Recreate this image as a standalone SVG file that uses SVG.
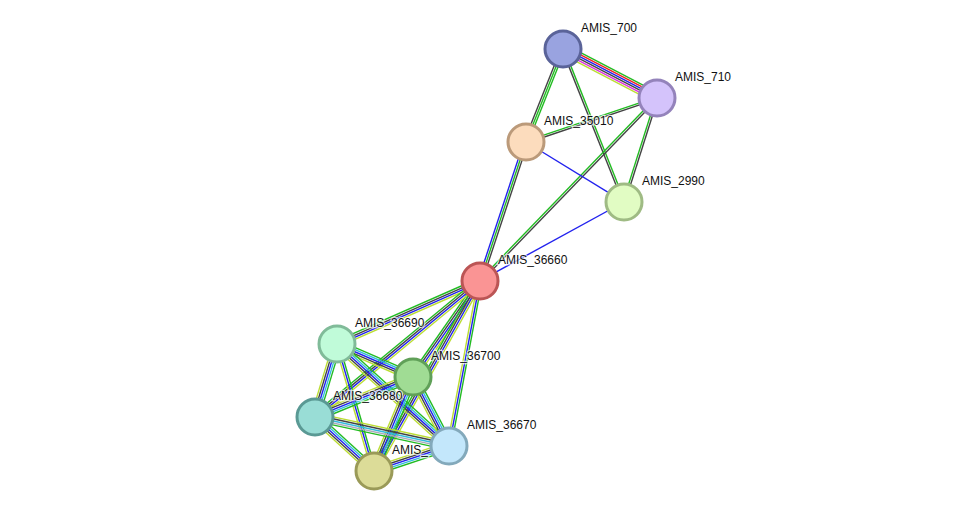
<svg xmlns="http://www.w3.org/2000/svg" width="976" height="517" viewBox="0 0 976 517">
<style>
line{stroke-width:1.4;fill:none}
.g{stroke:#22bb22}.r{stroke:#ee2222}.b{stroke:#2222ee}.k{stroke:#444}.m{stroke:#dd33dd}.y{stroke:#bbdd33}.c{stroke:#33bbdd}
.n circle{stroke-width:3}
text{font-family:"Liberation Sans",Arial,sans-serif;font-size:12px;fill:#111;paint-order:stroke;stroke:#fff;stroke-width:2.5px;stroke-opacity:0.7}
</style>
<rect width="976" height="517" fill="#fff"/>
<g id="edges">
<g transform="translate(563,49) rotate(27.5)"><line class="g" x1="0" y1="-5" x2="106" y2="-5"/><line class="r" x1="0" y1="-3" x2="106" y2="-3"/><line class="b" x1="0" y1="-1" x2="106" y2="-1"/><line class="k" x1="0" y1="1" x2="106" y2="1"/><line class="m" x1="0" y1="3" x2="106" y2="3"/><line class="y" x1="0" y1="5" x2="106" y2="5"/></g>
<g transform="translate(563,49) rotate(111.7)"><line class="g" x1="0" y1="-2" x2="100" y2="-2"/><line class="g" x1="0" y1="0" x2="100" y2="0"/><line class="k" x1="0" y1="2" x2="100" y2="2"/></g>
<g transform="translate(563,49) rotate(68.3)"><line class="g" x1="0" y1="-1" x2="165" y2="-1"/><line class="k" x1="0" y1="1" x2="165" y2="1"/></g>
<g transform="translate(657,98) rotate(161.4)"><line class="k" x1="0" y1="-1" x2="138" y2="-1"/><line class="g" x1="0" y1="1" x2="138" y2="1"/></g>
<g transform="translate(657,98) rotate(107.6)"><line class="k" x1="0" y1="-1" x2="109" y2="-1"/><line class="g" x1="0" y1="1" x2="109" y2="1"/></g>
<g transform="translate(657,98) rotate(134)"><line class="k" x1="0" y1="-1" x2="255" y2="-1"/><line class="g" x1="0" y1="1" x2="255" y2="1"/></g>
<g transform="translate(526,142) rotate(108.3)"><line class="k" x1="0" y1="-2" x2="146" y2="-2"/><line class="g" x1="0" y1="0" x2="146" y2="0"/><line class="b" x1="0" y1="2" x2="146" y2="2"/></g>
<g transform="translate(526,142) rotate(31.5)"><line class="b" x1="0" y1="0" x2="115" y2="0"/></g>
<g transform="translate(624,202) rotate(151.3)"><line class="b" x1="0" y1="0" x2="164" y2="0"/></g>
<g transform="translate(480,281) rotate(156.2)"><line class="y" x1="0" y1="-3" x2="156" y2="-3"/><line class="b" x1="0" y1="-1" x2="156" y2="-1"/><line class="k" x1="0" y1="1" x2="156" y2="1"/><line class="g" x1="0" y1="3" x2="156" y2="3"/></g>
<g transform="translate(480,281) rotate(124.9)"><line class="y" x1="0" y1="-3" x2="117" y2="-3"/><line class="b" x1="0" y1="-1" x2="117" y2="-1"/><line class="k" x1="0" y1="1" x2="117" y2="1"/><line class="g" x1="0" y1="3" x2="117" y2="3"/></g>
<g transform="translate(480,281) rotate(140.5)"><line class="y" x1="0" y1="-3" x2="214" y2="-3"/><line class="b" x1="0" y1="-1" x2="214" y2="-1"/><line class="k" x1="0" y1="1" x2="214" y2="1"/><line class="g" x1="0" y1="3" x2="214" y2="3"/></g>
<g transform="translate(480,281) rotate(100.6)"><line class="g" x1="0" y1="-2" x2="168" y2="-2"/><line class="b" x1="0" y1="0" x2="168" y2="0"/><line class="y" x1="0" y1="2" x2="168" y2="2"/></g>
<g transform="translate(480,281) rotate(119.2)"><line class="y" x1="0" y1="-3" x2="218" y2="-3"/><line class="b" x1="0" y1="-1" x2="218" y2="-1"/><line class="k" x1="0" y1="1" x2="218" y2="1"/><line class="g" x1="0" y1="3" x2="218" y2="3"/></g>
<g transform="translate(337,344) rotate(23.5)"><line class="g" x1="0" y1="-4" x2="83" y2="-4"/><line class="c" x1="0" y1="-2" x2="83" y2="-2"/><line class="b" x1="0" y1="0" x2="83" y2="0"/><line class="k" x1="0" y1="2" x2="83" y2="2"/><line class="y" x1="0" y1="4" x2="83" y2="4"/></g>
<g transform="translate(337,344) rotate(106.8)"><line class="g" x1="0" y1="-4" x2="76" y2="-4"/><line class="c" x1="0" y1="-2" x2="76" y2="-2"/><line class="b" x1="0" y1="0" x2="76" y2="0"/><line class="k" x1="0" y1="2" x2="76" y2="2"/><line class="y" x1="0" y1="4" x2="76" y2="4"/></g>
<g transform="translate(337,344) rotate(42.3)"><line class="g" x1="0" y1="-4" x2="151" y2="-4"/><line class="c" x1="0" y1="-2" x2="151" y2="-2"/><line class="b" x1="0" y1="0" x2="151" y2="0"/><line class="k" x1="0" y1="2" x2="151" y2="2"/><line class="y" x1="0" y1="4" x2="151" y2="4"/></g>
<g transform="translate(337,344) rotate(73.8)"><line class="g" x1="0" y1="-2" x2="132" y2="-2"/><line class="b" x1="0" y1="0" x2="132" y2="0"/><line class="y" x1="0" y1="2" x2="132" y2="2"/></g>
<g transform="translate(413,377) rotate(157.8)"><line class="g" x1="0" y1="-4" x2="106" y2="-4"/><line class="c" x1="0" y1="-2" x2="106" y2="-2"/><line class="b" x1="0" y1="0" x2="106" y2="0"/><line class="k" x1="0" y1="2" x2="106" y2="2"/><line class="y" x1="0" y1="4" x2="106" y2="4"/></g>
<g transform="translate(413,377) rotate(62.4)"><line class="g" x1="0" y1="-4" x2="78" y2="-4"/><line class="c" x1="0" y1="-2" x2="78" y2="-2"/><line class="b" x1="0" y1="0" x2="78" y2="0"/><line class="k" x1="0" y1="2" x2="78" y2="2"/><line class="y" x1="0" y1="4" x2="78" y2="4"/></g>
<g transform="translate(413,377) rotate(112.5)"><line class="g" x1="0" y1="-4" x2="102" y2="-4"/><line class="c" x1="0" y1="-2" x2="102" y2="-2"/><line class="b" x1="0" y1="0" x2="102" y2="0"/><line class="k" x1="0" y1="2" x2="102" y2="2"/><line class="y" x1="0" y1="4" x2="102" y2="4"/></g>
<g transform="translate(315,417) rotate(12.2)"><line class="y" x1="0" y1="-4" x2="137" y2="-4"/><line class="k" x1="0" y1="-2" x2="137" y2="-2"/><line class="c" x1="0" y1="0" x2="137" y2="0"/><line class="b" x1="0" y1="2" x2="137" y2="2" style="stroke:#aab"/><line class="g" x1="0" y1="4" x2="137" y2="4"/></g>
<g transform="translate(315,417) rotate(42.5)"><line class="g" x1="0" y1="-4" x2="80" y2="-4"/><line class="c" x1="0" y1="-2" x2="80" y2="-2"/><line class="b" x1="0" y1="0" x2="80" y2="0"/><line class="k" x1="0" y1="2" x2="80" y2="2"/><line class="y" x1="0" y1="4" x2="80" y2="4"/></g>
<g transform="translate(449,446) rotate(161.6)"><line class="g" x1="0" y1="-4" x2="79" y2="-4"/><line class="c" x1="0" y1="-2" x2="79" y2="-2"/><line class="b" x1="0" y1="0" x2="79" y2="0"/><line class="k" x1="0" y1="2" x2="79" y2="2"/><line class="y" x1="0" y1="4" x2="79" y2="4"/></g>
</g>
<g id="AMIS_700" class="n"><circle cx="563" cy="49" r="18" fill="#99a3e0" stroke="#5a6399"/><text x="581" y="32">AMIS_700</text></g>
<g id="AMIS_710" class="n"><circle cx="657" cy="98" r="18" fill="#d4c3fb" stroke="#9483bb"/><text x="675" y="81">AMIS_710</text></g>
<g id="AMIS_35010" class="n"><circle cx="526" cy="142" r="18" fill="#fcdcbd" stroke="#bb9a7a"/><text x="544" y="125">AMIS_35010</text></g>
<g id="AMIS_2990" class="n"><circle cx="624" cy="202" r="18" fill="#e1fcc3" stroke="#9fbb84"/><text x="642" y="185">AMIS_2990</text></g>
<g id="AMIS_36660" class="n"><circle cx="480" cy="281" r="18" fill="#fa9494" stroke="#bb5555"/><text x="498" y="264">AMIS_36660</text></g>
<g id="AMIS_36690" class="n"><circle cx="337" cy="344" r="18" fill="#c0fbd9" stroke="#80bb99"/><text x="355" y="327">AMIS_36690</text></g>
<g id="AMIS_36680" class="n"><circle cx="315" cy="417" r="18" fill="#99ddd6" stroke="#5a9994"/></g>
<g id="AMIS_36700" class="n"><circle cx="413" cy="377" r="18" fill="#a0dc94" stroke="#60a058"/><text x="431" y="360">AMIS_36700</text></g>
<g id="AMIS_366xx" class="n"><circle cx="374" cy="471" r="18" fill="#dcdc98" stroke="#9a9a58"/><text x="392" y="454">AMIS_</text></g>
<g id="AMIS_36670" class="n"><circle cx="449" cy="446" r="18" fill="#c3e7fb" stroke="#83a9bb"/><text x="467" y="429">AMIS_36670</text></g>
<g id="label36680"><text x="333" y="400">AMIS_36680</text></g>
</svg>
